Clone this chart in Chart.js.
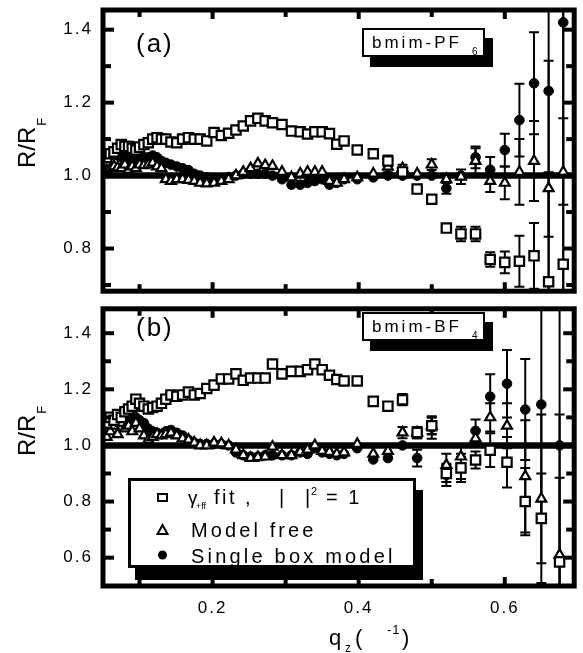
<!DOCTYPE html>
<html>
<head>
<meta charset="utf-8">
<script src="https://cdn.jsdelivr.net/npm/chart.js@4.4.1/dist/chart.umd.min.js"></script>
<style>
  html, body { margin: 0; padding: 0; background: #fff; }
  #wrap { position: relative; width: 583px; height: 653px; }
  #boxA { position: absolute; left: 0; top: 0; width: 583px; height: 300px; }
  #boxB { position: absolute; left: 0; top: 300px; width: 583px; height: 353px; }
</style>
</head>
<body>
<div id="wrap">
  <div id="boxA"><canvas id="chartA" width="583" height="300"></canvas></div>
  <div id="boxB"><canvas id="chartB" width="583" height="353"></canvas></div>
</div>
<script>
var FONT = 'Liberation Sans';
Chart.defaults.font.family = FONT;
Chart.defaults.color = '#000';

// panel (a): bmim-PF6
var qA = [0.055, 0.06, 0.065, 0.07, 0.075, 0.08, 0.085, 0.09, 0.095, 0.1, 0.106, 0.112, 0.118, 0.124, 0.13, 0.136, 0.143, 0.151, 0.159, 0.167, 0.175, 0.183, 0.192, 0.202, 0.212, 0.222, 0.232, 0.242, 0.252, 0.262, 0.272, 0.282, 0.295, 0.308, 0.32, 0.33, 0.34, 0.35, 0.36, 0.37, 0.38, 0.398, 0.42, 0.44, 0.46, 0.48, 0.50, 0.52, 0.54, 0.56, 0.58, 0.60, 0.62, 0.64, 0.66, 0.68];
var gammaA = [1.05, 1.06, 1.065, 1.075, 1.085, 1.08, 1.08, 1.075, 1.07, 1.078, 1.085, 1.09, 1.1, 1.104, 1.1, 1.1, 1.092, 1.09, 1.1, 1.104, 1.1, 1.1, 1.095, 1.118, 1.11, 1.116, 1.125, 1.136, 1.15, 1.157, 1.15, 1.145, 1.14, 1.122, 1.12, 1.114, 1.12, 1.12, 1.115, 1.086, 1.095, 1.07, 1.06, 1.04, 1.01, 0.963, 0.935, 0.856, 0.84, 0.84, 0.77, 0.762, 0.765, 0.78, 0.709, 0.757];
var freeA = [1.015, 1.02, 1.025, 1.022, 1.02, 1.03, 1.015, 1.025, 1.02, 1.03, 1.028, 1.03, 1.035, 1.025, 1.02, 0.99, 0.985, 0.99, 0.99, 0.988, 0.985, 0.98, 0.978, 0.98, 0.985, 0.99, 1.0, 1.01, 1.02, 1.033, 1.028, 1.026, 1.01, 0.995, 1.005, 1.01, 1.01, 1.01, 0.985, 0.98, 0.99, 0.995, 1.005, 1.024, 1.02, 1.005, 1.03, 0.99, 0.997, 1.04, 0.985, 0.98, 1.01, 1.04, 0.965, 1.01];
var boxModelA = [1.05, 1.055, 1.06, 1.055, 1.05, 1.055, 1.05, 1.045, 1.05, 1.045, 1.05, 1.05, 1.055, 1.05, 1.04, 1.035, 1.03, 1.025, 1.02, 1.015, 1.005, 1.0, 0.995, 0.99, 0.99, 0.995, 1.0, 1.005, 1.005, 1.005, 1.005, 1.0, 0.99, 0.975, 0.975, 0.98, 0.985, 0.99, 0.975, 0.98, 0.99, 0.99, 0.995, 1.0, 1.0, 1.0, 1.0, 0.965, 1.0, 1.05, 1.016, 1.07, 1.152, 1.253, 1.232, 1.42];
var errQA = [0.44, 0.46, 0.48, 0.50, 0.52, 0.54, 0.56, 0.58, 0.60, 0.62, 0.64, 0.66, 0.68];
var gammaErrA = [0.015, 0.01, 0, 0, 0, 0.02, 0.02, 0.02, 0.03, 0.07, 0.09, 0.3, 0.4];
var freeErrA = [0.015, 0.01, 0, 0.015, 0, 0.02, 0.035, 0.03, 0.045, 0.09, 0.11, 0.35, 0.45];
var boxErrA = [0, 0, 0, 0, 0.015, 0, 0.03, 0.035, 0.045, 0.1, 0.14, 0.4, 0.5];

// panel (b): bmim-BF4
var qB = [0.055, 0.06, 0.065, 0.07, 0.075, 0.08, 0.085, 0.09, 0.095, 0.1, 0.106, 0.112, 0.118, 0.124, 0.13, 0.136, 0.143, 0.151, 0.159, 0.167, 0.175, 0.183, 0.192, 0.202, 0.212, 0.222, 0.232, 0.242, 0.252, 0.262, 0.272, 0.282, 0.295, 0.308, 0.32, 0.33, 0.34, 0.35, 0.36, 0.37, 0.38, 0.398, 0.42, 0.44, 0.46, 0.48, 0.50, 0.52, 0.54, 0.56, 0.58, 0.603, 0.628, 0.65, 0.675];
var gammaB = [1.08, 1.1, 1.09, 1.11, 1.1, 1.12, 1.13, 1.14, 1.165, 1.15, 1.14, 1.13, 1.135, 1.14, 1.15, 1.165, 1.18, 1.175, 1.18, 1.19, 1.18, 1.185, 1.203, 1.215, 1.237, 1.237, 1.255, 1.232, 1.24, 1.24, 1.24, 1.29, 1.255, 1.264, 1.264, 1.27, 1.29, 1.27, 1.25, 1.235, 1.23, 1.23, 1.157, 1.14, 1.163, 1.046, 1.07, 0.9, 0.92, 0.948, 0.983, 0.94, 0.8, 0.74, 0.585];
var freeB = [1.03, 1.05, 1.07, 1.04, 1.08, 1.06, 1.07, 1.05, 1.08, 1.06, 1.035, 1.02, 1.03, 1.04, 1.035, 1.04, 1.045, 1.035, 1.025, 1.02, 1.01, 1.0, 1.0, 1.01, 1.007, 1.0, 0.985, 0.965, 0.955, 0.958, 0.96, 0.995, 0.965, 0.965, 0.977, 0.985, 1.0, 0.98, 0.977, 0.97, 0.975, 1.005, 0.97, 0.98, 1.046, 1.046, 1.07, 0.93, 0.96, 1.025, 1.1, 1.07, 0.89, 0.81, 0.61];
var boxModelB = [1.06, 1.08, 1.1, 1.09, 1.1, 1.11, 1.1, 1.09, 1.1, 1.09, 1.08, 1.06, 1.05, 1.045, 1.04, 1.05, 1.055, 1.045, 1.035, 1.02, 1.01, 1.005, 1.005, 1.005, 1.005, 1.0, 0.975, 0.965, 0.96, 0.96, 0.965, 0.965, 0.965, 0.965, 0.975, 0.97, 0.99, 0.975, 0.97, 0.965, 0.97, 0.99, 0.95, 0.955, 1.0, 0.955, 1.064, 0.895, 0.92, 1.052, 1.174, 1.22, 1.128, 1.146, 1.0];
var errQB = [0.46, 0.48, 0.50, 0.52, 0.54, 0.56, 0.58, 0.603, 0.628, 0.65, 0.675];
var gammaErrB = [0.02, 0.02, 0.03, 0.03, 0.04, 0.03, 0.06, 0.09, 0.12, 0.16, 0.3];
var freeErrB = [0.02, 0.02, 0.03, 0.04, 0.04, 0.03, 0.05, 0.08, 0.2, 0.3, 0.5];
var boxErrB = [0, 0.03, 0.04, 0.04, 0.05, 0.04, 0.08, 0.12, 0.18, 0.4, 0.6];

// axes
var xMajor = [0.2, 0.4, 0.6];
var xMinor = [0.1, 0.3, 0.5];
var xTickLabels = ['0.2', '0.4', '0.6'];
var yMajorA = [0.8, 1.0, 1.2, 1.4];
var yMinorA = [0.7, 0.9, 1.1, 1.3];
var yTickLabelsA = ['0.8', '1.0', '1.2', '1.4'];
var yMajorB = [0.6, 0.8, 1.0, 1.2, 1.4];
var yMinorB = [0.7, 0.9, 1.1, 1.3];
var yTickLabelsB = ['0.6', '0.8', '1.0', '1.2', '1.4'];
var refLevel = 1.0;

function pts(q, v) {
    return q.map(function (x, i) { return { x: x, y: v[i] }; });
}

function makeDatasets(q, gamma, free, box) {
    return [
        { label: 'γ fit', data: pts(q, gamma), pointStyle: 'rect', pointRadius: 6.6, borderWidth: 2.2, borderColor: '#000', backgroundColor: '#fff' },
        { label: 'Model free', data: pts(q, free), pointStyle: 'triangle', pointRadius: 5.7, borderWidth: 2.2, borderColor: '#000', backgroundColor: '#fff' },
        { label: 'Single box model', data: pts(q, box), pointStyle: 'circle', pointRadius: 4.8, borderWidth: 1, borderColor: '#000', backgroundColor: '#000' }
    ];
}

function drawErrors(chart, q, vals, errQ, errs) {
    var ctx = chart.ctx, xs = chart.scales.x, ys = chart.scales.y;
    errQ.forEach(function (qe, k) {
        var e = errs[k];
        if (!e) return;
        var j = q.findIndex(function (v) { return Math.abs(v - qe) < 1e-9; });
        if (j < 0) return;
        var px = xs.getPixelForValue(q[j]);
        var y1 = ys.getPixelForValue(vals[j] + e);
        var y2 = ys.getPixelForValue(vals[j] - e);
        ctx.beginPath();
        ctx.moveTo(px, y1); ctx.lineTo(px, y2);
        ctx.moveTo(px - 5, y1); ctx.lineTo(px + 5, y1);
        ctx.moveTo(px - 5, y2); ctx.lineTo(px + 5, y2);
        ctx.stroke();
    });
}

function seg(ctx, x1, y1, x2, y2) {
    ctx.beginPath(); ctx.moveTo(x1, y1); ctx.lineTo(x2, y2); ctx.stroke();
}

function drawFrame(chart, yMajor, yMinor) {
    var ctx = chart.ctx, a = chart.chartArea, xs = chart.scales.x, ys = chart.scales.y;
    ctx.save();
    ctx.strokeStyle = '#000';
    ctx.lineWidth = 5;
    ctx.strokeRect(a.left, a.top, a.right - a.left, a.bottom - a.top);
    ctx.lineWidth = 4;
    function xt(v, len) {
        var p = xs.getPixelForValue(v);
        seg(ctx, p, a.top, p, a.top + len);
        seg(ctx, p, a.bottom, p, a.bottom - len);
    }
    function yt(v, len) {
        var p = ys.getPixelForValue(v);
        seg(ctx, a.left, p, a.left + len, p);
        seg(ctx, a.right, p, a.right - len, p);
    }
    xMajor.forEach(function (v) { xt(v, 9); });
    xMinor.forEach(function (v) { xt(v, 7); });
    yMajor.forEach(function (v) { yt(v, 11); });
    yMinor.forEach(function (v) { yt(v, 8); });
    ctx.restore();
}

function text(ctx, s, x, y, size, spacing) {
    ctx.font = size + 'px "' + FONT + '"';
    ctx.letterSpacing = (spacing || 0) + 'px';
    ctx.fillText(s, x, y);
}

function drawYTitle(ctx, x, y) {
    ctx.save();
    ctx.translate(x, y);
    ctx.rotate(-Math.PI / 2);
    ctx.fillStyle = '#000';
    ctx.textAlign = 'left';
    ctx.textBaseline = 'alphabetic';
    text(ctx, 'R/R', 0, 0, 24, 0);
    var w = ctx.measureText('R/R').width;
    text(ctx, 'F', w + 1, 11, 13, 0);
    ctx.restore();
}

function drawSampleBox(ctx, x, y, name, sub) {
    ctx.save();
    ctx.fillStyle = '#000';
    ctx.fillRect(x + 8, y + 10, 123, 29);
    ctx.fillStyle = '#fff';
    ctx.fillRect(x, y, 123, 29);
    ctx.strokeStyle = '#000';
    ctx.lineWidth = 2;
    ctx.strokeRect(x + 1, y + 1, 121, 27);
    ctx.fillStyle = '#000';
    ctx.textAlign = 'left';
    ctx.textBaseline = 'alphabetic';
    text(ctx, name, x + 10, y + 20, 17, 3);
    text(ctx, sub, x + 110, y + 27, 10, 0);
    ctx.restore();
}

function basePlugin(cfg) {
    return {
        id: 'panel' + cfg.tag,
        beforeDraw: function (chart) {
            chart.ctx.letterSpacing = '2px';
        },
        beforeDatasetsDraw: function (chart) {
            var ctx = chart.ctx, a = chart.chartArea, ys = chart.scales.y;
            ctx.save();
            ctx.beginPath();
            ctx.rect(a.left, a.top, a.right - a.left, a.bottom - a.top);
            ctx.clip();
            ctx.strokeStyle = '#000';
            ctx.lineWidth = 6.5;
            var py = ys.getPixelForValue(refLevel);
            seg(ctx, a.left, py, a.right, py);
            ctx.lineWidth = 2;
            drawErrors(chart, cfg.q, cfg.gamma, cfg.errQ, cfg.gammaErr);
            drawErrors(chart, cfg.q, cfg.free, cfg.errQ, cfg.freeErr);
            drawErrors(chart, cfg.q, cfg.box, cfg.errQ, cfg.boxErr);
            ctx.restore();
        },
        afterDraw: function (chart) {
            var ctx = chart.ctx;
            drawFrame(chart, cfg.yMajor, cfg.yMinor);
            ctx.save();
            ctx.fillStyle = '#000';
            ctx.textAlign = 'left';
            ctx.textBaseline = 'alphabetic';
            text(ctx, cfg.panel, 136, cfg.panelY, 26, 2);
            ctx.restore();
            drawSampleBox(ctx, 362, cfg.boxY, cfg.sample, cfg.sampleSub);
            drawYTitle(ctx, 35, cfg.titleY);
            if (cfg.extra) cfg.extra(chart);
        }
    };
}

function drawLegend(chart) {
    var ctx = chart.ctx;
    ctx.save();
    ctx.fillStyle = '#000';
    ctx.fillRect(135, 190, 288, 90);
    ctx.fillStyle = '#fff';
    ctx.fillRect(128, 178, 288, 90);
    ctx.strokeStyle = '#000';
    ctx.lineWidth = 3;
    ctx.strokeRect(129.5, 179.5, 285, 87);
    // symbols
    ctx.lineWidth = 2;
    ctx.fillStyle = '#fff';
    ctx.fillRect(158, 194, 9, 7);
    ctx.strokeRect(158, 194, 9, 7);
    ctx.beginPath();
    ctx.moveTo(162.5, 225); ctx.lineTo(167.5, 234); ctx.lineTo(157.5, 234); ctx.closePath();
    ctx.fill(); ctx.stroke();
    ctx.fillStyle = '#000';
    ctx.beginPath(); ctx.arc(162.5, 255, 4.5, 0, Math.PI * 2); ctx.fill();
    // texts
    ctx.textAlign = 'left';
    ctx.textBaseline = 'alphabetic';
    text(ctx, 'γ', 188, 204, 19, 0);
    text(ctx, '+ff', 196, 209, 9, 0);
    text(ctx, 'fit ,', 214, 204, 20, 2.5);
    text(ctx, '|', 279, 204, 20, 0);
    text(ctx, '|', 305, 204, 20, 0);
    text(ctx, '2', 311, 195, 11, 0);
    text(ctx, '= 1', 326, 204, 20, 2.5);
    text(ctx, 'Model free', 191, 237, 20, 3.1);
    text(ctx, 'Single box model', 191, 263, 20, 3.2);
    // x axis title
    text(ctx, 'q', 329, 345, 22, 0);
    text(ctx, 'z', 345, 352, 12, 0);
    text(ctx, '(', 355, 345, 22, 0);
    text(ctx, '-1', 387, 334, 13, 1);
    text(ctx, ')', 402, 345, 22, 0);
    ctx.restore();
}

function yScale(min, max, majors, labels) {
    return {
        type: 'linear', min: min, max: max,
        grid: { display: false, drawTicks: false },
        border: { display: false },
        afterBuildTicks: function (s) { s.ticks = majors.map(function (v) { return { value: v }; }); },
        afterFit: function (s) { s.width = 103; s.paddingTop = 0; s.paddingBottom = 0; },
        ticks: {
            autoSkip: false, padding: 10, color: '#000',
            font: { family: FONT, size: 17 },
            callback: function (v, i) { return labels[i]; }
        }
    };
}

var chartA = new Chart(document.getElementById('chartA').getContext('2d'), {
    type: 'scatter',
    data: { datasets: makeDatasets(qA, gammaA, freeA, boxModelA) },
    options: {
        responsive: false, animation: false, events: [],
        layout: { padding: { top: 10, right: 3, bottom: 4, left: 0 } },
        plugins: { legend: { display: false }, tooltip: { enabled: false } },
        scales: {
            x: { type: 'linear', min: 0.05, max: 0.695, display: false },
            y: yScale(0.683, 1.454, yMajorA, yTickLabelsA)
        }
    },
    plugins: [basePlugin({
        tag: 'A', q: qA, gamma: gammaA, free: freeA, box: boxModelA,
        errQ: errQA, gammaErr: gammaErrA, freeErr: freeErrA, boxErr: boxErrA,
        yMajor: yMajorA, yMinor: yMinorA,
        panel: '(a)', panelY: 52, boxY: 28, sample: 'bmim-PF', sampleSub: '6', titleY: 168
    })]
});

var chartB = new Chart(document.getElementById('chartB').getContext('2d'), {
    type: 'scatter',
    data: { datasets: makeDatasets(qB, gammaB, freeB, boxModelB) },
    options: {
        responsive: false, animation: false, events: [],
        layout: { padding: { top: 2, right: 3, bottom: 0, left: 0 } },
        plugins: { legend: { display: false }, tooltip: { enabled: false } },
        scales: {
            x: {
                type: 'linear', min: 0.05, max: 0.695,
                grid: { display: false, drawTicks: false },
                border: { display: false },
                afterBuildTicks: function (s) { s.ticks = xMajor.map(function (v) { return { value: v }; }); },
                afterFit: function (s) { s.height = 67; s.paddingLeft = 0; s.paddingRight = 0; },
                ticks: {
                    autoSkip: false, padding: 12, color: '#000', maxRotation: 0,
                    font: { family: FONT, size: 17 },
                    callback: function (v, i) { return xTickLabels[i]; }
                }
            },
            y: yScale(0.499, 1.487, yMajorB, yTickLabelsB)
        }
    },
    plugins: [basePlugin({
        tag: 'B', q: qB, gamma: gammaB, free: freeB, box: boxModelB,
        errQ: errQB, gammaErr: gammaErrB, freeErr: freeErrB, boxErr: boxErrB,
        yMajor: yMajorB, yMinor: yMinorB,
        panel: '(b)', panelY: 36, boxY: 12, sample: 'bmim-BF', sampleSub: '4', titleY: 156,
        extra: drawLegend
    })]
});
</script>
</body>
</html>
